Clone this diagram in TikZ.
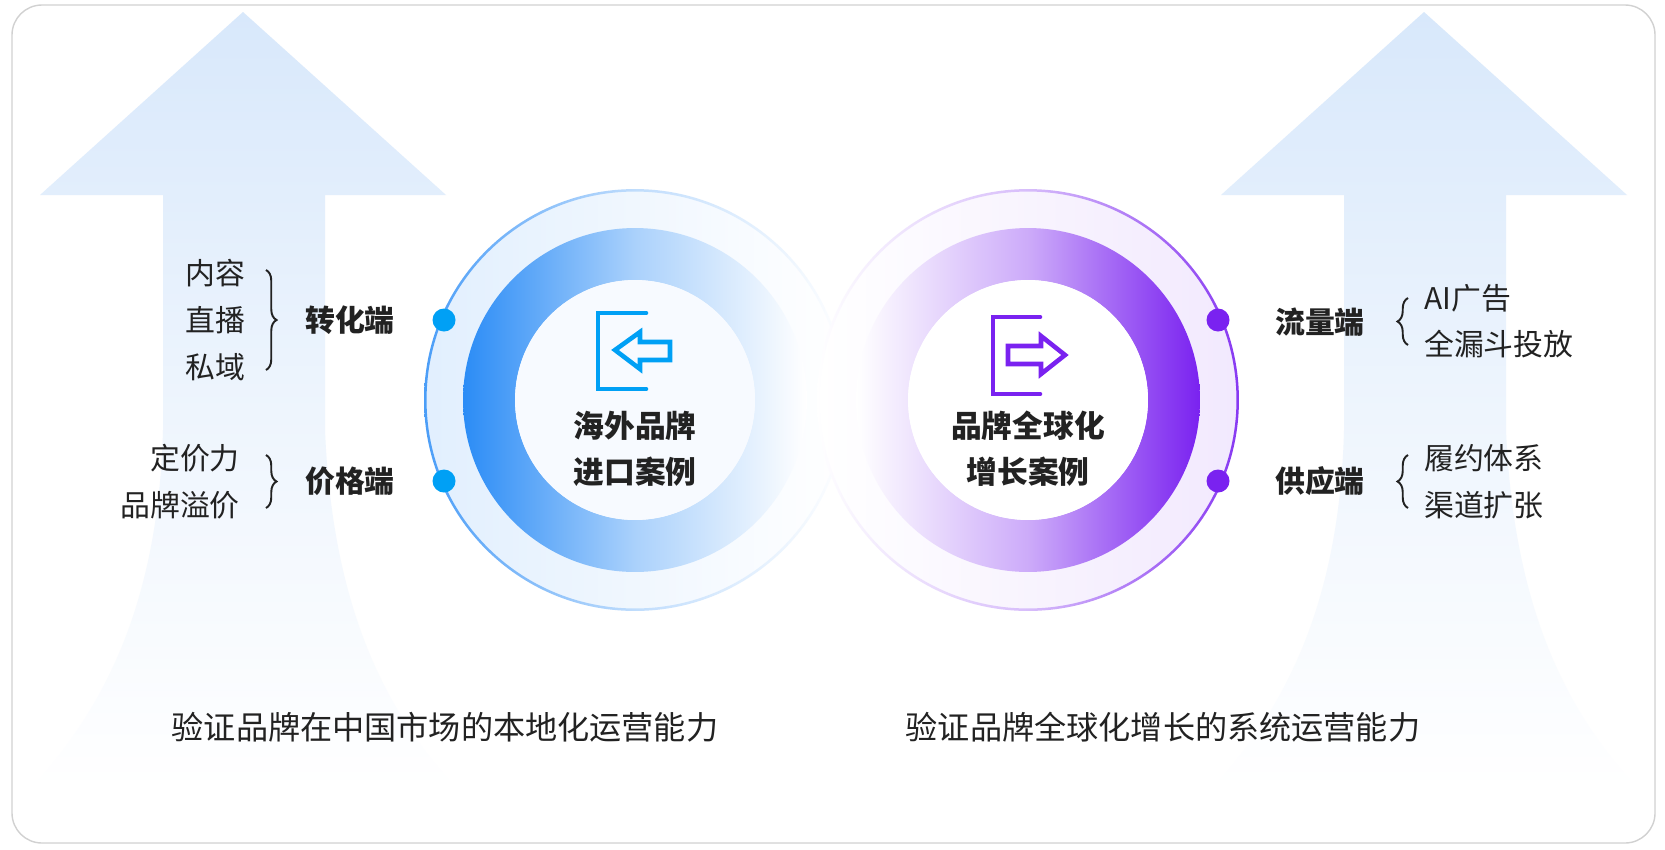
\documentclass[tikz,border=0pt]{standalone}
\usepackage{fontspec}
\setmainfont{Noto Sans CJK SC}
\usetikzlibrary{decorations.pathreplacing}
\definecolor{bl}{HTML}{2B8CF6}
\definecolor{blt}{HTML}{00A0F5}
\definecolor{pu}{HTML}{7A22F0}
\definecolor{ar}{HTML}{D8E8FB}
\definecolor{tx}{HTML}{222222}
\begin{document}
\begin{tikzpicture}[x=0.02cm,y=-0.02cm,
  lab/.style={font=\fontsize{17}{19}\selectfont,text=tx,align=center},
  key/.style={font=\fontsize{17}{19}\selectfont\bfseries,text=tx},
  ctr/.style={font=\fontsize{17.5}{26}\selectfont\bfseries,text=tx,align=center},
  bot/.style={font=\fontsize{18.3}{20}\selectfont,text=tx},
  dotb/.style={circle,fill=#1,minimum size=0.46cm,inner sep=0},
  br/.style={decorate,decoration={brace,amplitude=6pt},line width=1.1pt,draw=tx},
  ic/.style={line width=2.6pt,line cap=round,line join=miter}]
\useasboundingbox (0,0) rectangle (1665,849);
\draw[draw=black!18,line width=0.8pt,rounded corners=0.6cm,fill=white] (12,5) rectangle (1655,843);
% arrows
\foreach \c in {243,1424}{
 \shade[top color=ar,bottom color=white,middle color=ar!45]
  (\c-80,195) -- (\c-203,195) -- (\c,12) -- (\c+203,195) -- (\c+82,195)
  -- (\c+82,430) .. controls (\c+90,620) and (\c+150,720) .. (\c+215,790)
  -- (\c-213,790) .. controls (\c-150,720) and (\c-85,620) .. (\c-80,430) -- cycle;
}
% left circle
\coordinate (L) at (635,400);
\shade[left color=bl!14,right color=white] (L) circle (4.2cm);
\shade[left color=bl!85,right color=white,middle color=bl!30,even odd rule] (L) circle (4.22cm) (L) circle (4.17cm);
\shade[left color=bl,right color=white,middle color=bl!40,even odd rule] (L) circle (3.44cm) (L) circle (2.4cm);
\fill[white!96!bl] (L) circle (2.4cm);
% right circle
\coordinate (R) at (1028,400);
\shade[right color=pu!10,left color=white] (R) circle (4.2cm);
\shade[right color=pu!90,left color=white,middle color=pu!30,even odd rule] (R) circle (4.22cm) (R) circle (4.17cm);
\shade[right color=pu,left color=white,middle color=pu!38,even odd rule] (R) circle (3.44cm) (R) circle (2.4cm);
\fill[white] (R) circle (2.4cm);
% icons
\draw[ic,blt] (646,313) -- (598,313) -- (598,389) -- (646,389);
\draw[ic,blt,line join=miter] (615,350) -- (640,332) -- (640,342) -- (670,342) -- (670,360) -- (640,360) -- (640,369) -- cycle;
\draw[ic,pu] (1040,317) -- (993,317) -- (993,394) -- (1040,394);
\draw[ic,pu] (1065,355) -- (1041,336) -- (1041,346) -- (1008,346) -- (1008,364) -- (1041,364) -- (1041,374) -- cycle;
\node[ctr] (lt) at (635,449) {海外品牌\\进口案例};
\node[ctr] (rt) at (1028,449) {品牌全球化\\增长案例};
% dots
\node[dotb=blt] (d1) at (444,320) {};
\node[dotb=blt] (d2) at (444,481) {};
\node[dotb=pu] (d3) at (1218,320) {};
\node[dotb=pu] (d4) at (1218,481) {};
% left labels
\node[lab] (a1) at (215,273) {内容};
\node[lab] (a2) at (215,320) {直播};
\node[lab] (a3) at (215,367) {私域};
\draw[br] (266,270) -- (266,370);
\node[key] (k1) at (350,320) {转化端};
\node[lab,anchor=east] (a4) at (246,458) {定价力};
\node[lab,anchor=east] (a5) at (246,505) {品牌溢价};
\draw[br] (266,455) -- (266,508);
\node[key] (k2) at (350,481) {价格端};
% right labels
\node[key] (k3) at (1320,322) {流量端};
\draw[br] (1408,345) -- (1408,298);
\node[lab,anchor=west] (b1) at (1418,298) {AI广告};
\node[lab,anchor=west] (b2) at (1418,344) {全漏斗投放};
\node[key] (k4) at (1320,481) {供应端};
\draw[br] (1408,508) -- (1408,455);
\node[lab,anchor=west] (b3) at (1418,458) {履约体系};
\node[lab,anchor=west] (b4) at (1418,505) {渠道扩张};
% bottom
\node[bot] (t1) at (445,727) {验证品牌在中国市场的本地化运营能力};
\node[bot] (t2) at (1163,727) {验证品牌全球化增长的系统运营能力};
\end{tikzpicture}
\end{document}
